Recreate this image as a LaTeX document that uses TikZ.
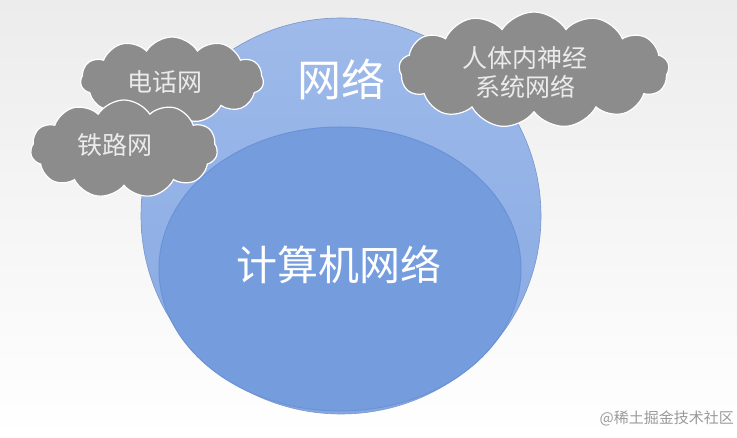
\documentclass[tikz,border=0pt]{standalone}
\usepackage{fontspec}
\setmainfont{Noto Sans CJK SC}
\newfontfamily\cjk{Noto Sans CJK SC}
\usetikzlibrary{shapes.geometric,shapes.symbols}
\definecolor{bgtop}{HTML}{ECECEC}
\definecolor{outertop}{HTML}{9EBAEA}
\definecolor{outerbot}{HTML}{86A8E2}
\definecolor{innerfill}{HTML}{759DDE}
\definecolor{innerrim}{HTML}{6A92D6}
\definecolor{cloudgray}{HTML}{8C8C8C}
\definecolor{cloudtext}{HTML}{EBEBEB}
\definecolor{marktext}{HTML}{9A9A9A}
\tikzset{
  cloudbox/.style={cloud, cloud puffs=11, cloud puff arc=115, cloud ignores aspect,
    fill=cloudgray, draw=white, line width=1.2pt, inner sep=0pt},
  cloudlabel/.style={text=cloudtext, font=\cjk\fontsize{25pt}{29pt}\selectfont, align=center, inner sep=0pt},
  biglabel/.style={text=white, inner sep=0pt}
}
\begin{document}
\begin{tikzpicture}[x=1pt,y=-1pt]
\useasboundingbox (0,0) rectangle (737,438);
\shade[top color=bgtop, middle color=black!2, bottom color=white] (0,0) rectangle (737,438);
% outer ellipse (network)
\node[ellipse, minimum width=400pt, minimum height=396pt, inner sep=0pt,
      top color=outertop, bottom color=outerbot, draw=outerbot!90!black, line width=0.6pt] (outer) at (341,216) {};
% inner ellipse (computer network)
\node[ellipse, minimum width=362pt, minimum height=284pt, inner sep=0pt,
      fill=innerfill, draw=innerrim, line width=1pt] (inner) at (340,269) {};
\node[biglabel, font=\cjk\fontsize{44pt}{48pt}\selectfont] (netlabel) at (341,79) {网络};
\node[biglabel, font=\cjk\fontsize{41pt}{46pt}\selectfont] (cnlabel) at (339,265) {计算机网络};
% clouds
\node[cloudbox, minimum width=183pt, minimum height=86pt] (c1) at (172,80) {};
\node[cloudlabel] (t1) at (165,82) {电话网};
\node[cloudbox, minimum width=187pt, minimum height=98pt] (c2) at (124,149) {};
\node[cloudlabel] (t2) at (115,145) {铁路网};
\node[cloudbox, cloud puffs=13, minimum width=270pt, minimum height=116pt] (c3) at (534,70) {};
\node[cloudlabel] (t3) at (525,72) {人体内神经\\系统网络};
% watermark
\node[text=marktext, font=\cjk\fontsize{15pt}{17pt}\selectfont, anchor=east, inner sep=0pt] (mark) at (734,418) {@稀土掘金技术社区};
\end{tikzpicture}
\end{document}
